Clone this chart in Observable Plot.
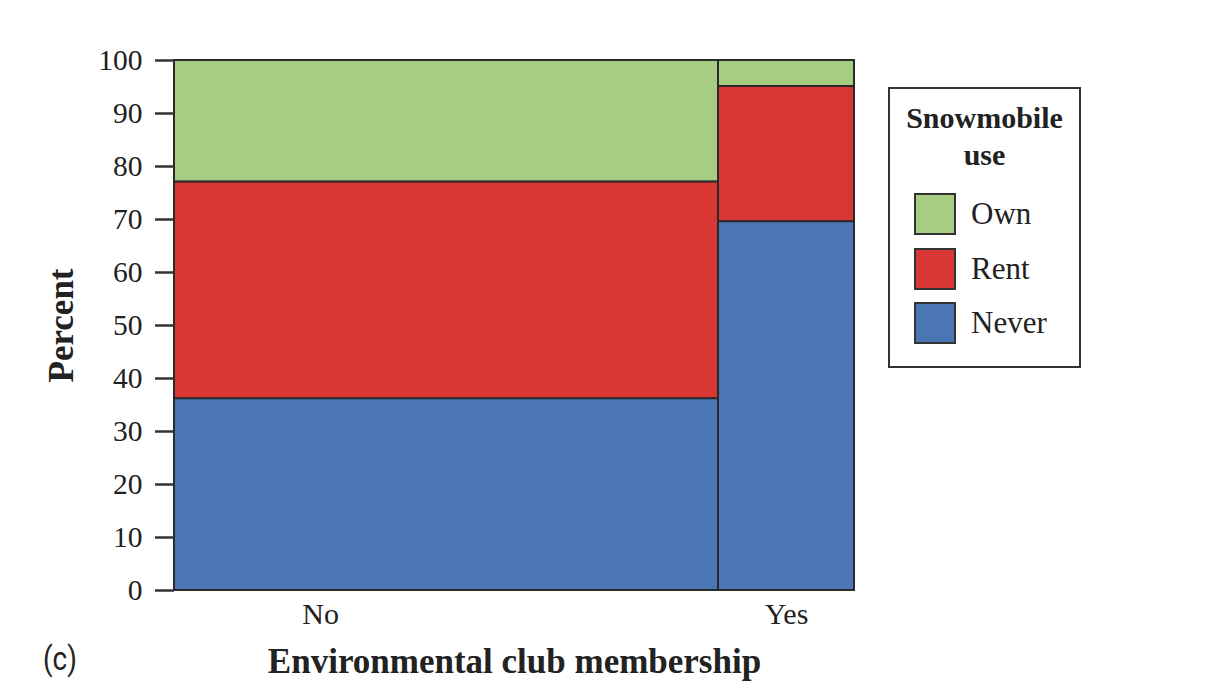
<!DOCTYPE html>
<html>
<head>
<meta charset="utf-8">
<script src="https://cdn.jsdelivr.net/npm/d3@7"></script>
<script src="https://cdn.jsdelivr.net/npm/@observablehq/plot@0.6"></script>
<style>
  html, body { margin: 0; padding: 0; background: #fff; }
  #wrap { position: relative; width: 1230px; height: 688px; font-family: "Liberation Serif", "DejaVu Serif", serif; color: #222; }
  #legend { position: absolute; left: 888px; top: 87px; width: 189px; height: 277px; border: 2px solid #333; box-sizing: content-box; }
  #legend .title { text-align: center; font-weight: bold; font-size: 30px; line-height: 37px; margin-top: 10px; }
  #legend .item { position: absolute; left: 24px; height: 42px; display: flex; align-items: center; font-size: 31px; }
  #legend .sw { width: 38px; height: 38px; border: 2px solid #333; margin-right: 15px; }
  #tag { position: absolute; left: 43px; top: 638px; font-family: "Liberation Sans Narrow", "Roboto", "DejaVu Sans Condensed", sans-serif; font-size: 34px; color: #222; transform: scaleX(0.82); transform-origin: left top; }
</style>
</head>
<body>
<div id="wrap"></div>
<script>
// Data
const groups = ["No", "Yes"];
const groupShare = [80, 20];            // percent of sample in each group (bar widths)
const categories = ["Never", "Rent", "Own"];
const noValues = [36.2, 40.9, 22.9];    // percent within "No"
const yesValues = [69.6, 25.5, 4.9];    // percent within "Yes"
const yTicks = [0, 10, 20, 30, 40, 50, 60, 70, 80, 90, 100];
const legendOrder = ["Own", "Rent", "Never"];
const colors = ["#4b76b6", "#d93733", "#a7cd82"];

const seriesByGroup = [noValues, yesValues];
const cells = [];
let xStart = 0;
groups.forEach((g, gi) => {
  let yStart = 0;
  categories.forEach((c, ci) => {
    const v = seriesByGroup[gi][ci];
    cells.push({group: g, category: c, x1: xStart, x2: xStart + groupShare[gi], y1: yStart, y2: yStart + v});
    yStart += v;
  });
  xStart += groupShare[gi];
});

const xLabelAt = [21.5, 90];

const chart = Plot.plot({
  width: 1230,
  height: 688,
  marginLeft: 174,
  marginRight: 376,
  marginTop: 60,
  marginBottom: 98,
  style: {fontFamily: "Liberation Serif, DejaVu Serif, serif", fontSize: "29.5px", color: "#222", background: "#fff"},
  x: {domain: [0, 100]},
  y: {domain: [0, 100]},
  color: {domain: categories, range: colors},
  marks: [
    Plot.rect(cells, {x1: "x1", x2: "x2", y1: "y1", y2: "y2", fill: "category", stroke: "#2a2a2a", strokeWidth: 2}),
    Plot.axisY({ticks: yTicks, tickSize: 19, tickPadding: 13, label: null, strokeWidth: 2.5, stroke: "#333"}),
    Plot.axisX({ticks: xLabelAt, tickFormat: (d, i) => groups[i], tickSize: 0, tickPadding: 12, label: null, fontSize: 30}),
    Plot.text(["Percent"], {frameAnchor: "left", textAnchor: "middle", dx: -113, rotate: -90, fontWeight: "bold", fontSize: 35}),
    Plot.text(["Environmental club membership"], {frameAnchor: "bottom", dy: 82, fontWeight: "bold", fontSize: 35})
  ]
});

const wrap = document.getElementById("wrap");
wrap.appendChild(chart);

// Legend
const legend = document.createElement("div");
legend.id = "legend";
legend.innerHTML = '<div class="title">Snowmobile<br>use</div>';
const colorOf = Object.fromEntries(categories.map((c, i) => [c, colors[i]]));
legendOrder.forEach((c, i) => {
  const item = document.createElement("div");
  item.className = "item";
  item.style.top = (104 + i * 54.5) + "px";
  item.innerHTML = `<div class="sw" style="background:${colorOf[c]}"></div><span>${c}</span>`;
  legend.appendChild(item);
});
wrap.appendChild(legend);

const tag = document.createElement("div");
tag.id = "tag";
tag.textContent = "(c)";
wrap.appendChild(tag);
</script>
</body>
</html>
